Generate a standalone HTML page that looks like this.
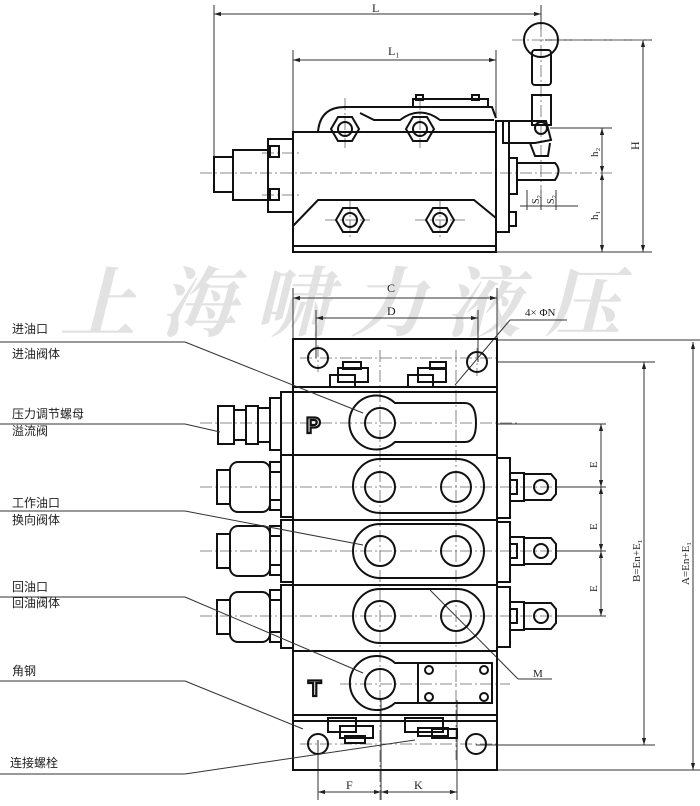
<!DOCTYPE html>
<html><head><meta charset="utf-8"><style>
html,body{margin:0;padding:0;background:#fff;}
svg{display:block;}
text{font-family:"Liberation Serif",serif;fill:#222;}
.cn{font-family:"Liberation Sans","Noto Sans CJK SC",sans-serif;font-size:12px;fill:#222;}
.k{fill:none;stroke:#111;stroke-width:2;}
.t{fill:none;stroke:#333;stroke-width:1;}
.c{fill:none;stroke:#666;stroke-width:0.8;stroke-dasharray:12 3 2 3;}
.w text{font-family:"Noto Serif CJK SC","WenQuanYi Zen Hei",serif;font-size:76px;fill:#e2e2e2;font-style:italic;font-weight:bold;}
.pt{font-family:"Liberation Sans",sans-serif;font-weight:bold;font-size:22px;fill:#fff;stroke:#111;stroke-width:2.2;}
</style></head><body>
<svg width="700" height="806" viewBox="0 0 700 806" xmlns="http://www.w3.org/2000/svg">
<defs>
<marker id="a" viewBox="0 0 10 10" refX="10" refY="5" markerWidth="7" markerHeight="7" orient="auto-start-reverse"><path d="M0,2 L10,5 L0,8z" fill="#222"/></marker>
</defs>
<g class="w">
<text x="60" y="330">上</text><text x="160" y="330">海</text><text x="255" y="330">啸</text><text x="350" y="330">力</text><text x="445" y="330">液</text><text x="545" y="330">压</text>
</g>

<g class="t">
<line x1="214" y1="5" x2="214" y2="172"/><line x1="541" y1="5" x2="541" y2="30"/>
<line x1="214" y1="14" x2="541" y2="14" marker-start="url(#a)" marker-end="url(#a)"/>
<line x1="293" y1="50" x2="293" y2="132"/><line x1="496" y1="50" x2="496" y2="118"/>
<line x1="293" y1="60" x2="496" y2="60" marker-start="url(#a)" marker-end="url(#a)"/>
<line x1="545" y1="40" x2="652" y2="40"/><line x1="550" y1="128" x2="612" y2="128"/><line x1="496" y1="252" x2="652" y2="252"/>
<line x1="643" y1="40" x2="643" y2="252" marker-start="url(#a)" marker-end="url(#a)"/>
<line x1="602" y1="128" x2="602" y2="173" marker-start="url(#a)" marker-end="url(#a)"/>
<line x1="602" y1="173" x2="602" y2="252" marker-start="url(#a)" marker-end="url(#a)"/>
<line x1="520" y1="206" x2="578" y2="206"/>
<line x1="527" y1="190" x2="527" y2="210"/><line x1="541" y1="190" x2="541" y2="210"/><line x1="556" y1="190" x2="556" y2="210"/>
</g>
<text x="372" y="12" font-size="12">L</text>
<text x="388" y="55" font-size="12">L₁</text>
<text x="0" y="0" font-size="12" transform="translate(639,150) rotate(-90)">H</text>
<text x="0" y="0" font-size="11" transform="translate(598,157) rotate(-90)">h₂</text>
<text x="0" y="0" font-size="11" transform="translate(598,220) rotate(-90)">h₁</text>
<text x="0" y="0" font-size="10" transform="translate(539,204) rotate(-90)">S₂</text>
<text x="0" y="0" font-size="10" transform="translate(554,204) rotate(-90)">S₂</text>
<g class="c">
<line x1="200" y1="173" x2="612" y2="173"/>
<line x1="512" y1="40" x2="652" y2="40"/>
<line x1="541" y1="25" x2="541" y2="200"/>
<line x1="345" y1="98" x2="345" y2="148"/><line x1="420" y1="98" x2="420" y2="148"/>
<line x1="350" y1="200" x2="350" y2="240"/><line x1="440" y1="200" x2="440" y2="240"/>
<line x1="325" y1="220" x2="370" y2="220"/><line x1="415" y1="220" x2="465" y2="220"/>
<line x1="262" y1="153" x2="300" y2="153"/><line x1="262" y1="195" x2="300" y2="195"/>
</g>
<g class="k">
<rect x="293" y="132" width="203" height="120"/>
<line x1="293" y1="246" x2="496" y2="246"/>
<path d="M318,132 Q320,107 345,107 L492,107 L496,118"/>
<path d="M360,113 L374,120 L400,120 Q420,105 440,120 L494,120"/>
<rect x="413" y="99" width="75" height="8"/>
<rect x="416" y="95" width="7" height="5"/><rect x="472" y="95" width="7" height="5"/>
<path d="M293,226 L318,200 L474,200 L496,218"/>
<rect x="268" y="139" width="25" height="73"/>
<rect x="270" y="146" width="9" height="11"/><rect x="270" y="189" width="9" height="11"/>
<rect x="233" y="150" width="35" height="50"/>
<rect x="214" y="157" width="19" height="35"/>
<rect x="496" y="121" width="13" height="111"/>
<rect x="509" y="158" width="8" height="36"/>
<rect x="509" y="212" width="7" height="14"/>
<path d="M503,121 L546,121 L551,140 L535,143 L503,143z"/>
<path d="M530,143 L535,156 L548,156 L550,143"/>
<path d="M517,163 L555,163 Q562,170 555,180 L517,180"/>
<rect x="532" y="50" width="19" height="35" rx="3"/>
<rect x="532" y="95" width="19" height="30"/>
<circle cx="541" cy="40" r="17"/>
<circle cx="541" cy="128" r="6"/>
</g>
<g class="k">
<polygon points="331,129 338,117 352,117 359,129 352,141 338,141"/><circle cx="345" cy="129" r="7"/>
<polygon points="406,129 413,117 427,117 434,129 427,141 413,141"/><circle cx="420" cy="129" r="7"/>
<polygon points="336,220 343,208 357,208 364,220 357,232 343,232"/><circle cx="350" cy="220" r="7"/>
<polygon points="426,220 433,208 447,208 454,220 447,232 433,232"/><circle cx="440" cy="220" r="7"/>
</g>

<g class="t">
<line x1="293" y1="288" x2="293" y2="339"/><line x1="497" y1="288" x2="497" y2="339"/>
<line x1="293" y1="298" x2="497" y2="298" marker-start="url(#a)" marker-end="url(#a)"/>
<line x1="316" y1="310" x2="316" y2="358"/><line x1="478" y1="310" x2="478" y2="362"/>
<line x1="316" y1="318" x2="478" y2="318" marker-start="url(#a)" marker-end="url(#a)"/>
<line x1="455" y1="385" x2="510" y2="320"/><line x1="510" y1="320" x2="567" y2="320"/>
<line x1="497" y1="340" x2="700" y2="340"/><line x1="497" y1="362" x2="655" y2="362"/>
<line x1="497" y1="424" x2="606" y2="424"/>
<line x1="555" y1="487" x2="606" y2="487"/><line x1="555" y1="551" x2="606" y2="551"/><line x1="555" y1="616" x2="606" y2="616"/>
<line x1="601" y1="424" x2="601" y2="487" marker-start="url(#a)" marker-end="url(#a)"/>
<line x1="601" y1="487" x2="601" y2="551" marker-start="url(#a)" marker-end="url(#a)"/>
<line x1="601" y1="551" x2="601" y2="616" marker-start="url(#a)" marker-end="url(#a)"/>
<line x1="644" y1="362" x2="644" y2="745" marker-start="url(#a)" marker-end="url(#a)"/>
<line x1="693" y1="342" x2="693" y2="770" marker-start="url(#a)" marker-end="url(#a)"/>
<line x1="476" y1="745" x2="655" y2="745"/><line x1="497" y1="770" x2="700" y2="770"/>
<line x1="430" y1="590" x2="518" y2="679"/><line x1="518" y1="679" x2="552" y2="679"/>
<line x1="318" y1="740" x2="318" y2="800"/><line x1="381" y1="700" x2="381" y2="800"/><line x1="457" y1="700" x2="457" y2="800"/>
<line x1="318" y1="792" x2="381" y2="792" marker-start="url(#a)" marker-end="url(#a)"/>
<line x1="381" y1="792" x2="457" y2="792" marker-start="url(#a)" marker-end="url(#a)"/>
</g>
<text x="387" y="292" font-size="12">C</text>
<text x="387" y="315" font-size="12">D</text>
<text x="525" y="316" font-size="11">4× ΦN</text>
<text x="533" y="677" font-size="11">M</text>
<text x="346" y="789" font-size="12">F</text>
<text x="414" y="789" font-size="12">K</text>
<text x="0" y="0" font-size="11" transform="translate(597,468) rotate(-90)">E</text>
<text x="0" y="0" font-size="11" transform="translate(597,530) rotate(-90)">E</text>
<text x="0" y="0" font-size="11" transform="translate(597,592) rotate(-90)">E</text>
<text x="0" y="0" font-size="11" transform="translate(640,582) rotate(-90)">B=En+E₁</text>
<text x="0" y="0" font-size="11" transform="translate(689,585) rotate(-90)">A=En+E₁</text>

<g class="c">
<line x1="380" y1="350" x2="380" y2="800"/><line x1="456" y1="350" x2="456" y2="760"/>
<line x1="200" y1="423" x2="520" y2="423"/>
<line x1="200" y1="487" x2="560" y2="487"/><line x1="200" y1="551" x2="560" y2="551"/><line x1="200" y1="616" x2="560" y2="616"/>
<line x1="340" y1="684" x2="510" y2="684"/>
<line x1="300" y1="358" x2="500" y2="358"/>
<line x1="300" y1="744" x2="500" y2="744"/>
<line x1="318" y1="345" x2="318" y2="372"/><line x1="477" y1="348" x2="477" y2="376"/>
</g>

<g class="k">
<rect x="293" y="339" width="204" height="431"/>
<line x1="293" y1="387" x2="497" y2="387"/>
<line x1="293" y1="392" x2="497" y2="392"/>
<line x1="293" y1="455" x2="497" y2="455"/>
<line x1="293" y1="520" x2="497" y2="520"/>
<line x1="293" y1="585" x2="497" y2="585"/>
<line x1="293" y1="651" x2="497" y2="651"/>
<line x1="293" y1="715" x2="497" y2="715"/>
<line x1="293" y1="721" x2="497" y2="721"/>
<circle cx="318" cy="358" r="10"/><circle cx="477" cy="362" r="10"/>
<circle cx="318" cy="744" r="10"/><circle cx="476" cy="744" r="10"/>
<rect x="330" y="375" width="25" height="12"/><rect x="338" y="368" width="30" height="14"/><rect x="343" y="362" width="18" height="7"/>
<rect x="408" y="375" width="25" height="12"/><rect x="418" y="368" width="28" height="14"/><rect x="430" y="362" width="16" height="7"/>
<rect x="328" y="718" width="28" height="14"/><rect x="340" y="726" width="33" height="12"/><rect x="345" y="736" width="20" height="7"/>
<rect x="405" y="718" width="38" height="14"/><rect x="418" y="728" width="30" height="8"/><rect x="432" y="729" width="25" height="9"/>
<path d="M395,403 L465,403 Q476,403 476,423 Q476,442 465,442 L395,442 A27,27 0 1 1 395,403z"/>
<circle cx="380" cy="423" r="15"/>
<rect x="353" y="459" width="131" height="54" rx="27"/>
<circle cx="380" cy="487" r="15"/><circle cx="456" cy="487" r="15"/>
<rect x="353" y="524" width="131" height="54" rx="27"/>
<circle cx="380" cy="551" r="15"/><circle cx="456" cy="551" r="15"/>
<rect x="353" y="589" width="131" height="54" rx="27"/>
<circle cx="380" cy="616" r="15"/><circle cx="456" cy="616" r="15"/>
<path d="M395,663 L418,663 L418,703 L395,703 A27,27 0 1 1 395,663z"/>
<circle cx="380" cy="684" r="15"/>
<rect x="418" y="663" width="74" height="40"/>
<circle cx="429" cy="670" r="4"/><circle cx="484" cy="670" r="4"/><circle cx="429" cy="697" r="4"/><circle cx="484" cy="697" r="4"/>
<rect x="281" y="392" width="12" height="63"/>
<rect x="270" y="398" width="11" height="52"/>
<rect x="258" y="408" width="12" height="34"/>
<rect x="246" y="406" width="12" height="38"/>
<rect x="234" y="410" width="12" height="30"/>
<rect x="218" y="406" width="16" height="38"/>
<rect x="281" y="455" width="12" height="62"/><rect x="270" y="462" width="11" height="10"/><rect x="270" y="500" width="11" height="10"/>
<rect x="230" y="462" width="40" height="50" rx="8"/><rect x="217" y="470" width="13" height="34"/>
<rect x="281" y="520" width="12" height="62"/><rect x="270" y="526" width="11" height="10"/><rect x="270" y="565" width="11" height="10"/>
<rect x="230" y="526" width="40" height="50" rx="8"/><rect x="217" y="534" width="13" height="34"/>
<rect x="281" y="585" width="12" height="63"/><rect x="270" y="590" width="11" height="10"/><rect x="270" y="632" width="11" height="10"/>
<rect x="230" y="592" width="40" height="50" rx="8"/><rect x="217" y="600" width="13" height="34"/>
<rect x="497" y="458" width="13" height="60"/><rect x="510" y="473" width="14" height="28"/><rect x="510" y="480" width="7" height="14"/>
<path d="M524,474 L551,474 L556,480 L556,494 L551,500 L524,500z"/><circle cx="541" cy="487" r="7"/>
<rect x="497" y="522" width="13" height="60"/><rect x="510" y="537" width="14" height="28"/><rect x="510" y="544" width="7" height="14"/>
<path d="M524,538 L551,538 L556,544 L556,558 L551,564 L524,564z"/><circle cx="541" cy="551" r="7"/>
<rect x="497" y="587" width="13" height="60"/><rect x="510" y="602" width="14" height="28"/><rect x="510" y="609" width="7" height="14"/>
<path d="M524,603 L551,603 L556,609 L556,623 L551,629 L524,629z"/><circle cx="541" cy="616" r="7"/>
</g>
<text class="pt" x="306" y="433">P</text>
<text class="pt" x="308" y="696">T</text>

<g class="t" stroke="#555">
<line x1="0" y1="342" x2="185" y2="342"/><line x1="185" y1="342" x2="363" y2="413"/>
<line x1="0" y1="424" x2="185" y2="424"/><line x1="185" y1="424" x2="220" y2="432"/>
<line x1="0" y1="511" x2="185" y2="511"/><line x1="185" y1="511" x2="363" y2="545"/>
<line x1="0" y1="597" x2="185" y2="597"/><line x1="185" y1="597" x2="363" y2="673"/>
<line x1="0" y1="681" x2="185" y2="681"/><line x1="185" y1="681" x2="303" y2="729"/>
<line x1="0" y1="774" x2="185" y2="774"/><line x1="185" y1="774" x2="415" y2="740"/>
</g>
<g class="cn">
<text x="12" y="333">进油口</text><text x="12" y="358">进油阀体</text>
<text x="12" y="418">压力调节螺母</text><text x="12" y="435">溢流阀</text>
<text x="12" y="507">工作油口</text><text x="12" y="524">换向阀体</text>
<text x="12" y="591">回油口</text><text x="12" y="607">回油阀体</text>
<text x="12" y="675">角钢</text>
<text x="10" y="767">连接螺栓</text>
</g>
</svg>
</body></html>
